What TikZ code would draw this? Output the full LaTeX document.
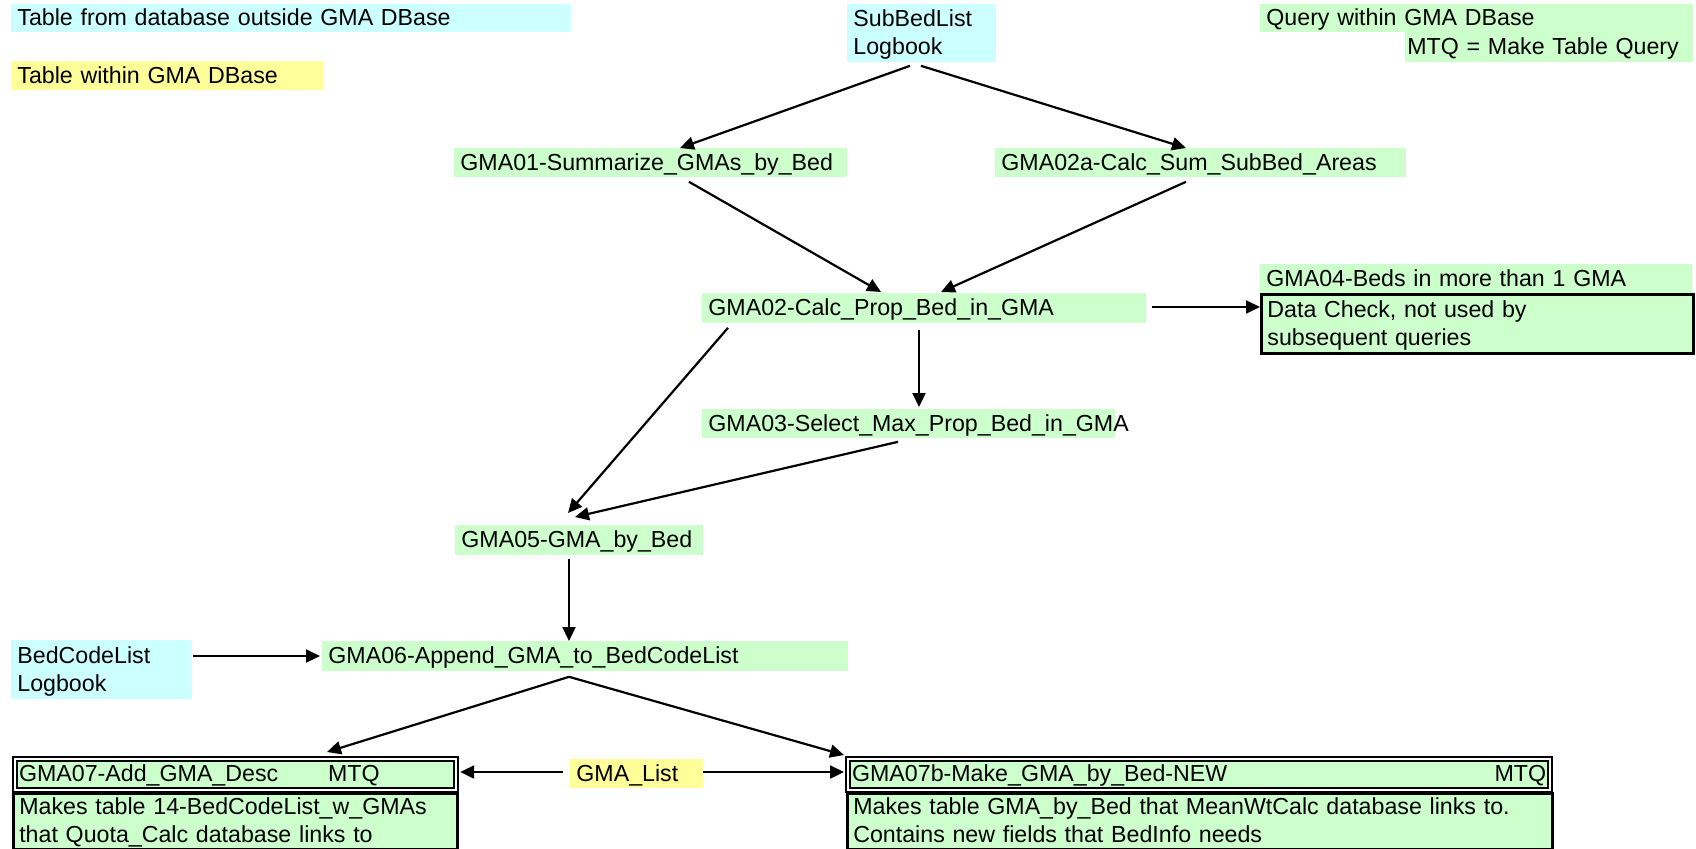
\documentclass[tikz,border=0pt]{standalone}
\usepackage{fontspec}
\setmainfont{Liberation Sans}
\usetikzlibrary{arrows.meta, calc}
\definecolor{extcol}{HTML}{CCFFFF}
\definecolor{intcol}{HTML}{FFFF99}
\definecolor{qrycol}{HTML}{CCFFCC}
\newcommand{\cellfont}{\fontsize{11.6pt}{14pt}\selectfont\exhyphenpenalty=10000 \hyphenpenalty=10000 }
\newcommand{\topstrut}{\rule{0pt}{10.6pt}}
\newcommand{\botstrut}{\rule[-3.4pt]{0pt}{0pt}}

\begin{document}
\begin{tikzpicture}[
    x=0.5pt, y=-0.5pt,
    arr/.style={-{Triangle[length=7pt, width=6.5pt]}, line width=1.1pt},
    cell/.style={anchor=north west, font=\cellfont, align=left, inner xsep=3pt, inner ysep=0pt,
        execute at begin node=\topstrut, execute at end node=\botstrut},
    extcell/.style={cell, fill=extcol},
    intcell/.style={cell, fill=intcol},
    qcell/.style={cell, fill=qrycol},
    chkcell/.style={qcell, draw, line width=1.4pt},
    mtqcell/.style={qcell, draw, line width=1.1pt, double=white, double distance=1pt, inner xsep=2pt},
    desccell/.style={qcell, draw, line width=1.3pt},
]
\fill[white] (0,0) rectangle (1696,848);
\useasboundingbox (0,0) rectangle (1696,848);
% ============================================================
% Legend
% ============================================================
\node[extcell, text width=274pt, minimum height=14pt] (legext) at (11,4) {Table from database outside GMA DBase};
\node[intcell, text width=150pt, minimum height=14.5pt] (legint) at (11,61) {Table within GMA DBase};
\node[qcell, text width=210.5pt, minimum height=14pt] (legqry) at (1260,4) {Query within GMA DBase};
\node[qcell, text width=142pt, minimum height=15pt, inner xsep=1pt] (legmtq) at (1405,32) {MTQ = Make Table Query};
% ============================================================
% Tables
% ============================================================
\node[extcell, text width=68.5pt, minimum height=29pt] (subbed) at (847,4) {SubBedList\\Logbook};
\node[extcell, text width=84.5pt, minimum height=29.5pt] (bedcode) at (11,640) {BedCodeList\\Logbook};
\node[intcell, text width=60.5pt, minimum height=14.5pt] (gmalist) at (570,759) {GMA\_List};
% ============================================================
% Queries
% ============================================================
\node[qcell, text width=190.5pt, minimum height=14.5pt] (gma01) at (454,148) {GMA01-Summarize\_GMAs\_by\_Bed};
\node[qcell, text width=199.5pt, minimum height=14.5pt] (gma02a) at (995,148) {GMA02a-Calc\_Sum\_SubBed\_Areas};
\node[qcell, text width=216pt, minimum height=15pt] (gma02) at (702,293) {GMA02-Calc\_Prop\_Bed\_in\_GMA};
\node[qcell, text width=210pt, minimum height=14.5pt] (gma04) at (1260,264) {GMA04-Beds in more than 1 GMA};
\node[chkcell, text width=210pt, minimum height=29.5pt] (datachk) at (1260,293) {Data Check, not used by\\subsequent queries};
\node[qcell, text width=200.5pt, minimum height=14.5pt] (gma03) at (702,409) {GMA03-Select\_Max\_Prop\_Bed\_in\_GMA};
\node[qcell, text width=118pt, minimum height=15pt] (gma05) at (455,525) {GMA05-GMA\_by\_Bed};
\node[qcell, text width=257pt, minimum height=15pt] (gma06) at (322,641) {GMA06-Append\_GMA\_to\_BedCodeList};
% --- make table queries ---
\node[mtqcell, text width=216.5pt, minimum height=15.5pt] (gma07) at (14,758) {\makebox[154.5pt][l]{GMA07-Add\_GMA\_Desc}MTQ};
\node[desccell, text width=216pt, minimum height=27.5pt] (desc07) at (12,792) {Makes table 14-BedCodeList\_w\_GMAs\\that Quota\_Calc database links to};
\node[mtqcell, text width=347pt, minimum height=15.5pt] (gma07b) at (847,758) {GMA07b-Make\_GMA\_by\_Bed-NEW\hfill MTQ};
\node[desccell, text width=346.5pt, minimum height=27.5pt] (desc07b) at (846,792) {Makes table GMA\_by\_Bed that MeanWtCalc database links to.\\Contains new fields that BedInfo needs};
% ============================================================
% Connectors
% ============================================================
\draw[arr] ($(subbed.south west)+(63,3)$) -- ($(gma01.north west)+(226,0)$);
\draw[arr] ($(subbed.south west)+(74,3)$) -- ($(gma02a.north west)+(191,0)$);
\draw[arr] ($(gma01.south west)+(235,4)$) -- ($(gma02.north west)+(179,-1)$);
\draw[arr] ($(gma02a.south west)+(191,4)$) -- ($(gma02.north west)+(239,-1)$);
\draw[arr] ($(gma02.north east)+(5,14)$) -- ($(datachk.north west)+(0,14)$);
\draw[arr] ($(gma02.south west)+(217,6)$) -- ($(gma03.north west)+(217,-2)$);
\draw[arr] ($(gma02.south west)+(26,4)$) -- ($(gma05.north west)+(113,-12)$);
\draw[arr] ($(gma03.south west)+(196,3)$) -- ($(gma05.north west)+(120,-8)$);
\draw[arr] ($(gma05.south west)+(114,3)$) -- ($(gma06.north west)+(247,0)$);
\draw[arr] ($(bedcode.north east)+(0,16)$) -- ($(gma06.north west)+(-2,15)$);
\draw[arr] ($(gma06.south west)+(247,5)$) -- ($(gma07.north west)+(313,-6)$);
\draw[arr] ($(gma06.south west)+(247,5)$) -- ($(gma07b.north west)+(-3,-3)$);
\draw[arr] ($(gmalist.north west)+(-7,13)$) -- ($(gma07.north east)+(3,14)$);
\draw[arr] ($(gmalist.north east)+(-1,13)$) -- ($(gma07b.north west)+(-3,14)$);
\end{tikzpicture}
\end{document}
